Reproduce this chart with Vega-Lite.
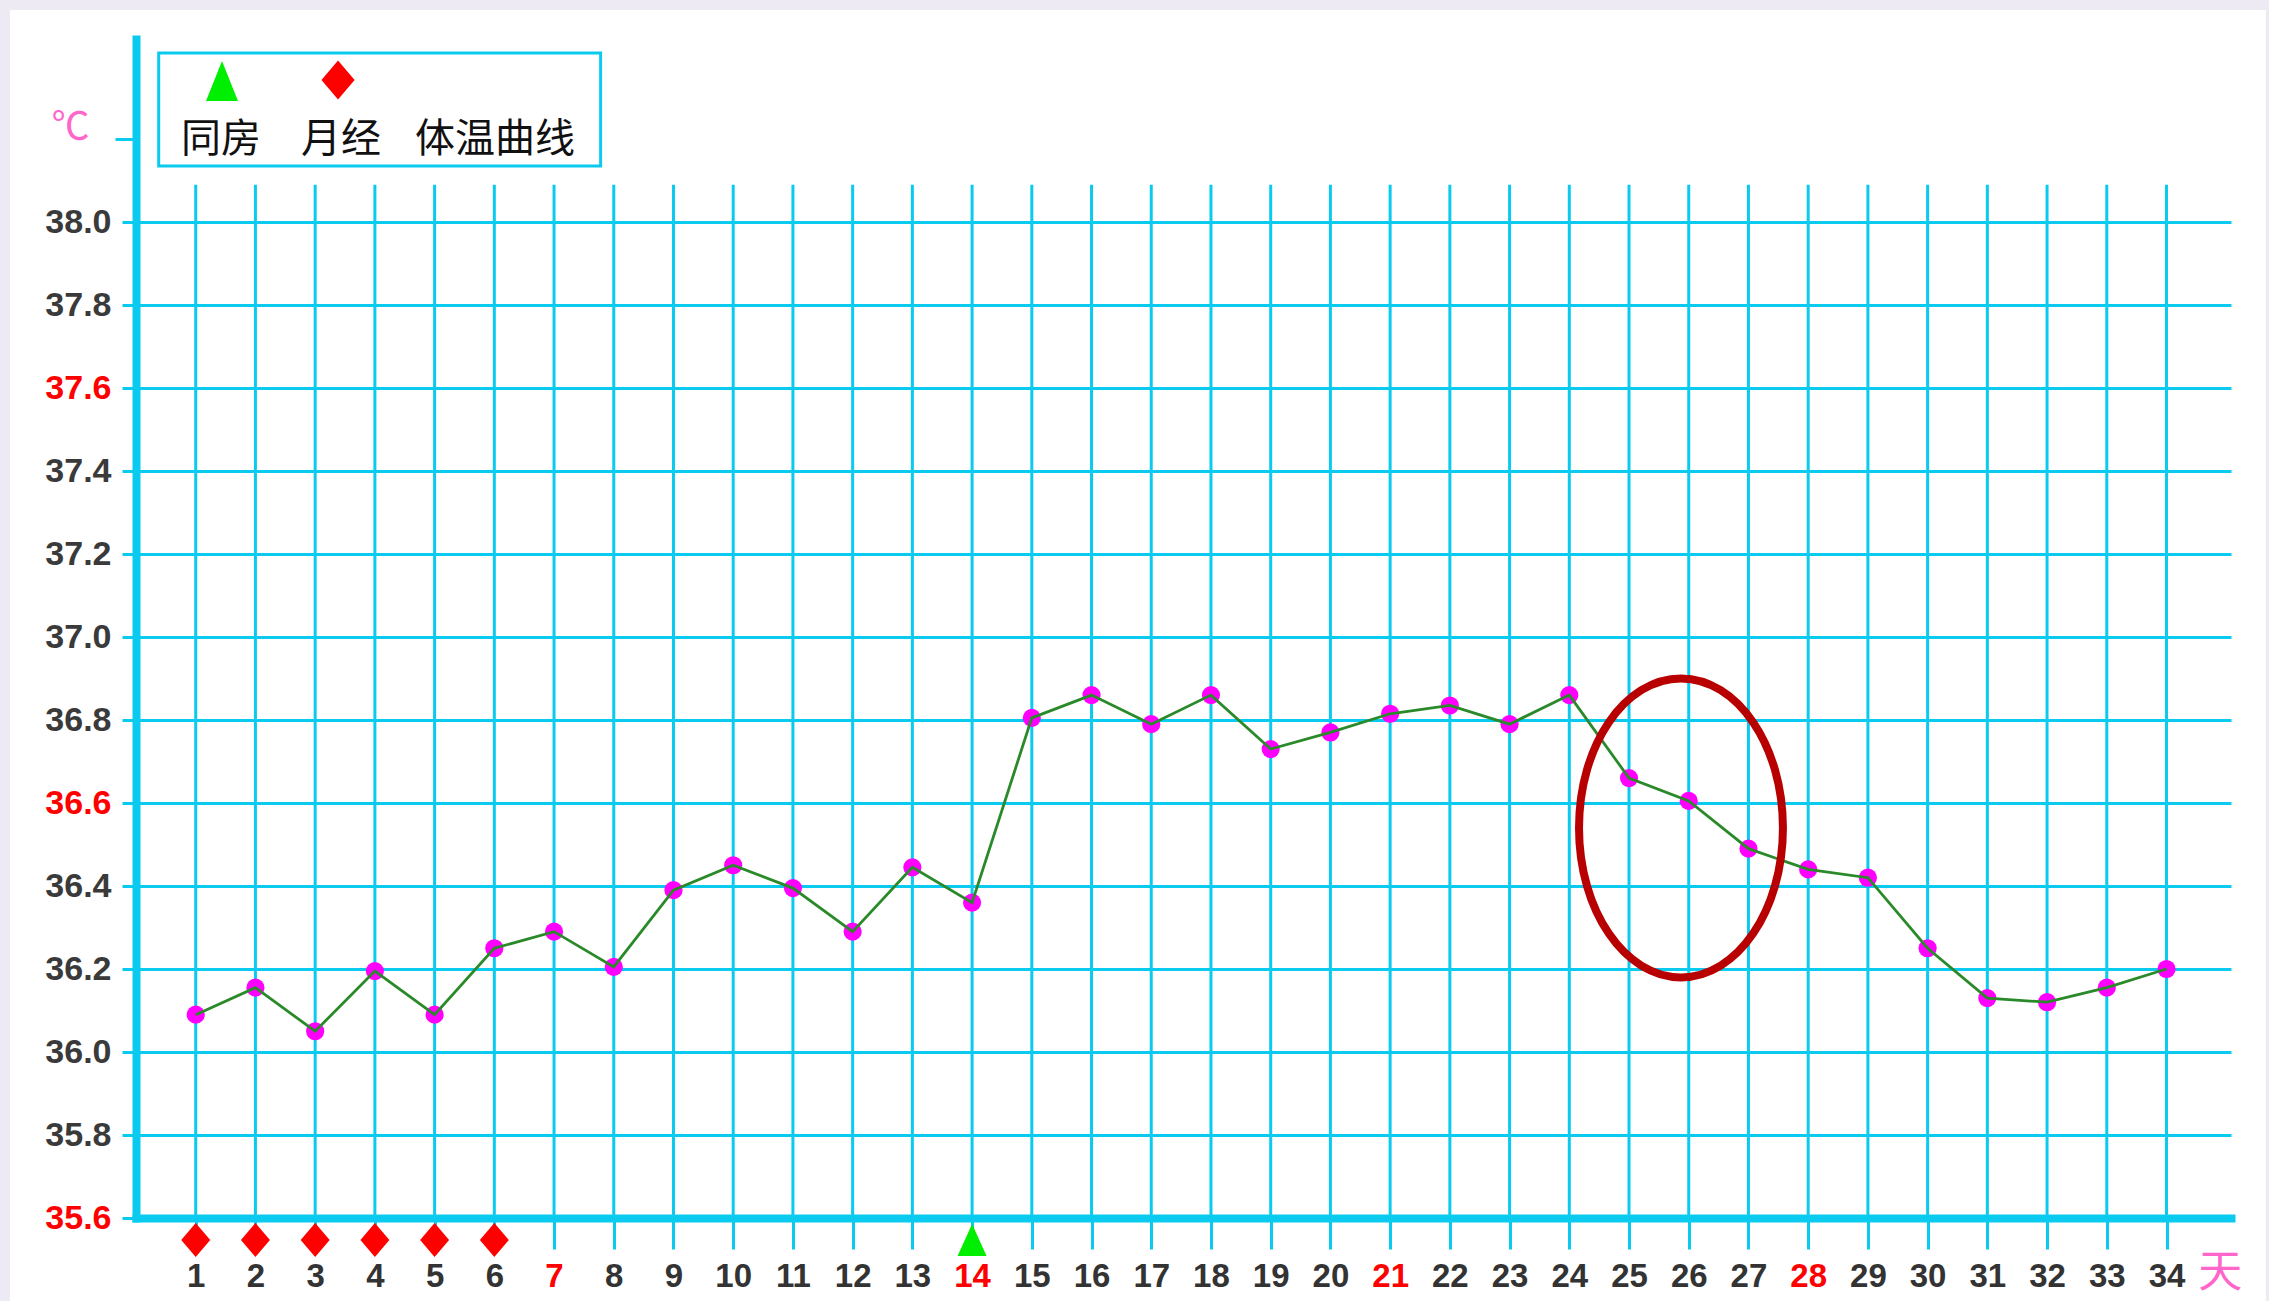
{
  "$schema": "https://vega.github.io/schema/vega-lite/v6.json",
  "width": 2095,
  "height": 1179,
  "autosize": {"type": "none"},
  "padding": {"left": 136, "top": 39, "right": 38, "bottom": 83},
  "background": "#ffffff",
  "config": {"view": {"stroke": null}, "axis": {"titleOpacity": 0}},
  "data": {
    "values": [
      {"day": 1, "temp": 36.09, "event": "月经"},
      {"day": 2, "temp": 36.155, "event": "月经"},
      {"day": 3, "temp": 36.05, "event": "月经"},
      {"day": 4, "temp": 36.195, "event": "月经"},
      {"day": 5, "temp": 36.09, "event": "月经"},
      {"day": 6, "temp": 36.25, "event": "月经"},
      {"day": 7, "temp": 36.29, "event": null},
      {"day": 8, "temp": 36.205, "event": null},
      {"day": 9, "temp": 36.39, "event": null},
      {"day": 10, "temp": 36.45, "event": null},
      {"day": 11, "temp": 36.395, "event": null},
      {"day": 12, "temp": 36.29, "event": null},
      {"day": 13, "temp": 36.445, "event": null},
      {"day": 14, "temp": 36.36, "event": "同房"},
      {"day": 15, "temp": 36.805, "event": null},
      {"day": 16, "temp": 36.86, "event": null},
      {"day": 17, "temp": 36.79, "event": null},
      {"day": 18, "temp": 36.86, "event": null},
      {"day": 19, "temp": 36.73, "event": null},
      {"day": 20, "temp": 36.77, "event": null},
      {"day": 21, "temp": 36.815, "event": null},
      {"day": 22, "temp": 36.835, "event": null},
      {"day": 23, "temp": 36.79, "event": null},
      {"day": 24, "temp": 36.86, "event": null},
      {"day": 25, "temp": 36.66, "event": null},
      {"day": 26, "temp": 36.605, "event": null},
      {"day": 27, "temp": 36.49, "event": null},
      {"day": 28, "temp": 36.44, "event": null},
      {"day": 29, "temp": 36.42, "event": null},
      {"day": 30, "temp": 36.25, "event": null},
      {"day": 31, "temp": 36.13, "event": null},
      {"day": 32, "temp": 36.12, "event": null},
      {"day": 33, "temp": 36.155, "event": null},
      {"day": 34, "temp": 36.2, "event": null}
    ]
  },
  "layer": [
    {
      "mark": {"type": "rule", "color": "#0acbef", "strokeWidth": 3},
      "encoding": {
        "x": {
          "field": "day", "type": "quantitative",
          "scale": {"domain": [0, 35.08], "nice": false, "zero": false},
          "axis": {
            "values": [1, 2, 3, 4, 5, 6, 7, 8, 9, 10, 11, 12, 13, 14, 15, 16, 17, 18, 19, 20, 21, 22, 23, 24, 25, 26, 27, 28, 29, 30, 31, 32, 33, 34, 34.89],
            "labelExpr": "datum.value > 34.5 ? '天' : format(datum.value, 'd')",
            "title": null,
            "grid": false,
            "domainColor": "#0acbef",
            "domainWidth": 8,
            "domainCap": "square",
            "tickColor": {"condition": {"test": "datum.value > 34.5", "value": "transparent"}, "value": "#0acbef"},
            "tickSize": 31,
            "tickWidth": 3,
            "labelPadding": {"condition": {"test": "datum.value > 34.5", "value": 2}, "value": 11},
            "labelFont": {"condition": {"test": "datum.value > 34.5", "value": "Noto Sans CJK SC"}, "value": "Liberation Sans, Arial, sans-serif"},
            "labelFontSize": {"condition": {"test": "datum.value > 34.5", "value": 44}, "value": 33},
            "labelFontWeight": {"condition": {"test": "datum.value > 34.5", "value": "normal"}, "value": "bold"},
            "labelColor": {"condition": [{"test": "datum.value > 34.5", "value": "#ff66cc"}, {"test": "datum.value % 7 === 0", "value": "#ff0000"}], "value": "#333333"},
            "labelAngle": 0,
            "labelBaseline": "top",
            "labelAlign": "center",
            "labelFlush": false,
            "labelOverlap": false,
            "labelBound": false
          }
        },
        "y": {
          "datum": 38.09, "type": "quantitative",
          "scale": {"domain": [35.6, 38.441], "nice": false, "zero": false},
          "axis": {
            "values": [35.6, 35.8, 36.0, 36.2, 36.4, 36.6, 36.8, 37.0, 37.2, 37.4, 37.6, 37.8, 38.0, 38.2],
            "labelExpr": "datum.value > 38.1 ? '℃' : format(datum.value, '.1f')",
            "title": null,
            "grid": true,
            "gridColor": "#0acbef",
            "gridWidth": 3,
            "gridOpacity": {"condition": {"test": "datum.value > 38.1", "value": 0}, "value": 1},
            "domainColor": "#0acbef",
            "domainWidth": 8,
            "domainCap": "square",
            "tickColor": "#0acbef",
            "tickWidth": 3,
            "tickSize": {"condition": {"test": "datum.value > 38.1", "value": 21}, "value": 14},
            "labelPadding": {"condition": {"test": "datum.value > 38.1", "value": 26}, "value": 11},
            "labelOffset": {"condition": {"test": "datum.value > 38.1", "value": -12}, "value": 0},
            "labelFont": {"condition": {"test": "datum.value > 38.1", "value": "Noto Sans CJK SC"}, "value": "Liberation Sans, Arial, sans-serif"},
            "labelFontSize": {"condition": {"test": "datum.value > 38.1", "value": 38}, "value": 34},
            "labelFontWeight": {"condition": {"test": "datum.value > 38.1", "value": "normal"}, "value": "bold"},
            "labelColor": {"condition": [{"test": "datum.value > 38.1", "value": "#ff66cc"}, {"test": "abs(datum.value - 35.6) < 0.01 || abs(datum.value - 36.6) < 0.01 || abs(datum.value - 37.6) < 0.01", "value": "#ff0000"}], "value": "#3a3a3a"},
            "labelAlign": "right",
            "labelBaseline": "middle",
            "labelFlush": false,
            "labelOverlap": false,
            "labelBound": false
          }
        },
        "y2": {"datum": 35.6}
      }
    },
    {
      "data": {"values": [{"part": "frame"}]},
      "mark": {"type": "rect", "fill": "transparent", "stroke": "#eeeaf4", "strokeWidth": 20},
      "encoding": {
        "x": {"datum": -2.277, "type": "quantitative"},
        "x2": {"datum": 35.83},
        "y": {"datum": 38.535, "type": "quantitative"},
        "y2": {"datum": 35.35}
      }
    },
    {
      "data": {"values": [{"part": "legend"}]},
      "mark": {"type": "rect", "fill": "#ffffff", "stroke": "#0acbef", "strokeWidth": 3},
      "encoding": {
        "x": {"datum": 0.38, "type": "quantitative"},
        "x2": {"datum": 7.78},
        "y": {"datum": 38.407, "type": "quantitative"},
        "y2": {"datum": 38.135}
      }
    },
    {
      "data": {"values": [{"item": "同房"}]},
      "mark": {"type": "point", "shape": "M0,-1L0.8,1L-0.8,1Z", "size": 1600, "filled": true, "color": "#00ee00", "opacity": 1},
      "encoding": {
        "x": {"datum": 1.44, "type": "quantitative"},
        "y": {"datum": 38.34, "type": "quantitative"}
      }
    },
    {
      "data": {"values": [{"item": "月经"}]},
      "mark": {"type": "point", "shape": "M0,-1L0.85,0L0,1L-0.85,0Z", "size": 1521, "filled": true, "color": "#ff0000", "opacity": 1},
      "encoding": {
        "x": {"datum": 3.383, "type": "quantitative"},
        "y": {"datum": 38.342, "type": "quantitative"}
      }
    },
    {
      "data": {"values": [{"item": "同房"}]},
      "mark": {"type": "text", "font": "Noto Sans CJK SC", "fontSize": 40, "color": "#111111", "align": "center", "baseline": "middle"},
      "encoding": {
        "text": {"field": "item"},
        "x": {"datum": 1.423, "type": "quantitative"},
        "y": {"datum": 38.198, "type": "quantitative"}
      }
    },
    {
      "data": {"values": [{"item": "月经"}]},
      "mark": {"type": "text", "font": "Noto Sans CJK SC", "fontSize": 40, "color": "#111111", "align": "center", "baseline": "middle"},
      "encoding": {
        "text": {"field": "item"},
        "x": {"datum": 3.433, "type": "quantitative"},
        "y": {"datum": 38.198, "type": "quantitative"}
      }
    },
    {
      "data": {"values": [{"item": "体温曲线"}]},
      "mark": {"type": "text", "font": "Noto Sans CJK SC", "fontSize": 40, "color": "#111111", "align": "center", "baseline": "middle"},
      "encoding": {
        "text": {"field": "item"},
        "x": {"datum": 6.011, "type": "quantitative"},
        "y": {"datum": 38.198, "type": "quantitative"}
      }
    },
    {
      "mark": {"type": "circle", "size": 330, "color": "#ff00ff", "opacity": 1},
      "encoding": {
        "x": {"field": "day", "type": "quantitative"},
        "y": {"field": "temp", "type": "quantitative"}
      }
    },
    {
      "mark": {"type": "line", "color": "#2a8a2a", "strokeWidth": 2.8},
      "encoding": {
        "x": {"field": "day", "type": "quantitative"},
        "y": {"field": "temp", "type": "quantitative"}
      }
    },
    {
      "transform": [{"filter": "datum.event != null"}],
      "mark": {"type": "point", "size": 1156, "filled": true, "opacity": 1},
      "encoding": {
        "x": {"field": "day", "type": "quantitative"},
        "y": {"datum": 35.547, "type": "quantitative"},
        "shape": {"field": "event", "type": "nominal", "scale": {"domain": ["月经", "同房"], "range": ["M0,-1L0.853,0L0,1L-0.853,0Z", "M0,-0.94L0.853,0.94L-0.853,0.94Z"]}, "legend": null},
        "color": {"field": "event", "type": "nominal", "scale": {"domain": ["月经", "同房"], "range": ["#ff0000", "#00ee00"]}, "legend": null}
      }
    },
    {
      "data": {"values": [{"note": "circled drop"}]},
      "mark": {"type": "point", "shape": "M0,-1C0.3767,-1 0.682,-0.5523 0.682,0C0.682,0.5523 0.3767,1 0,1C-0.3767,1 -0.682,0.5523 -0.682,0C-0.682,-0.5523 -0.3767,-1 0,-1Z", "size": 89401, "filled": false, "stroke": "#b80000", "strokeWidth": 8, "opacity": 1},
      "encoding": {
        "x": {"datum": 25.87, "type": "quantitative"},
        "y": {"datum": 36.54, "type": "quantitative"}
      }
    }
  ]
}
